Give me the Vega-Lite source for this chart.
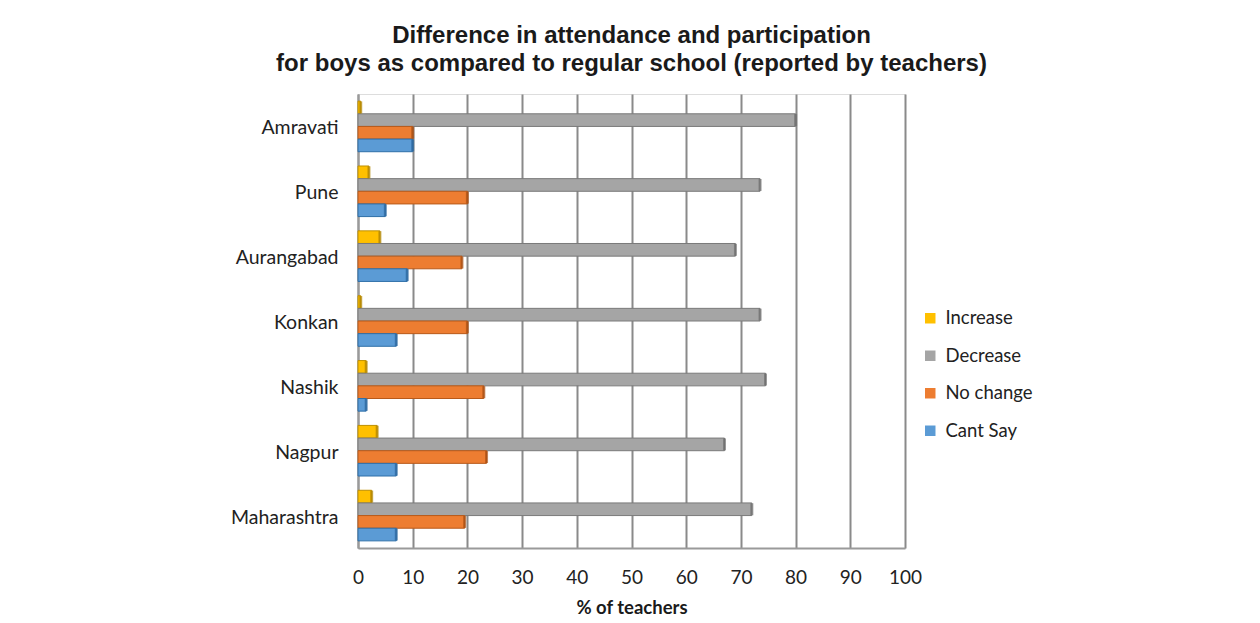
{
  "$schema": "https://vega.github.io/schema/vega-lite/v6.json",
  "autosize": {"type": "none"},
  "width": 547,
  "height": 454,
  "padding": {"left": 358, "top": 94, "right": 355, "bottom": 75},
  "background": "#ffffff",
  "title": {
    "text": ["Difference in attendance and participation", "for boys as compared to regular school (reported by teachers)"],
    "anchor": "middle",
    "frame": "group",
    "font": "Liberation Sans",
    "fontSize": 24,
    "fontWeight": "bold",
    "color": "#1a1a1a",
    "lineHeight": 28,
    "offset": 18
  },
  "data": {
    "values": [
      {"region": "Amravati", "response": "Increase", "pct": 0.5},
      {"region": "Amravati", "response": "Decrease", "pct": 80},
      {"region": "Amravati", "response": "No change", "pct": 10},
      {"region": "Amravati", "response": "Cant Say", "pct": 10},
      {"region": "Pune", "response": "Increase", "pct": 2},
      {"region": "Pune", "response": "Decrease", "pct": 73.5},
      {"region": "Pune", "response": "No change", "pct": 20},
      {"region": "Pune", "response": "Cant Say", "pct": 5},
      {"region": "Aurangabad", "response": "Increase", "pct": 4},
      {"region": "Aurangabad", "response": "Decrease", "pct": 69},
      {"region": "Aurangabad", "response": "No change", "pct": 19},
      {"region": "Aurangabad", "response": "Cant Say", "pct": 9},
      {"region": "Konkan", "response": "Increase", "pct": 0.5},
      {"region": "Konkan", "response": "Decrease", "pct": 73.5},
      {"region": "Konkan", "response": "No change", "pct": 20},
      {"region": "Konkan", "response": "Cant Say", "pct": 7},
      {"region": "Nashik", "response": "Increase", "pct": 1.5},
      {"region": "Nashik", "response": "Decrease", "pct": 74.5},
      {"region": "Nashik", "response": "No change", "pct": 23},
      {"region": "Nashik", "response": "Cant Say", "pct": 1.5},
      {"region": "Nagpur", "response": "Increase", "pct": 3.5},
      {"region": "Nagpur", "response": "Decrease", "pct": 67},
      {"region": "Nagpur", "response": "No change", "pct": 23.5},
      {"region": "Nagpur", "response": "Cant Say", "pct": 7},
      {"region": "Maharashtra", "response": "Increase", "pct": 2.5},
      {"region": "Maharashtra", "response": "Decrease", "pct": 72},
      {"region": "Maharashtra", "response": "No change", "pct": 19.5},
      {"region": "Maharashtra", "response": "Cant Say", "pct": 7}
    ]
  },
  "encoding": {
    "y": {
      "field": "region",
      "type": "nominal",
      "sort": ["Amravati", "Pune", "Aurangabad", "Konkan", "Nashik", "Nagpur", "Maharashtra"],
      "scale": {"paddingInner": 0.22, "paddingOuter": 0.11},
      "axis": {
        "title": null,
        "ticks": false,
        "domainColor": "#9a9a9a",
        "domainWidth": 2,
        "labelFont": "Lato",
        "labelFontSize": 19.5,
        "labelColor": "#222222",
        "labelPadding": 20,
        "labelOffset": 2
      }
    },
    "yOffset": {
      "field": "response",
      "type": "nominal",
      "sort": ["Increase", "Decrease", "No change", "Cant Say"],
      "scale": {"paddingInner": 0, "paddingOuter": 0}
    },
    "x": {
      "field": "pct",
      "type": "quantitative",
      "scale": {"domain": [0, 100], "nice": false},
      "axis": {
        "title": "% of teachers",
        "values": [0, 10, 20, 30, 40, 50, 60, 70, 80, 90, 100],
        "grid": true,
        "gridColor": "#8a8a8a",
        "gridWidth": 2,
        "ticks": false,
        "domainColor": "#9a9a9a",
        "domainWidth": 2,
        "labelFlush": false,
        "labelFont": "Lato",
        "labelFontSize": 19,
        "labelColor": "#222222",
        "labelPadding": 20,
        "titleFont": "Lato",
        "titleFontSize": 18.5,
        "titleFontWeight": "bold",
        "titleColor": "#1a1a1a",
        "titlePadding": 11
      }
    }
  },
  "layer": [
    {
      "mark": {"type": "bar", "strokeWidth": 1},
      "encoding": {
        "color": {
          "field": "response",
          "type": "nominal",
          "sort": ["Increase", "Decrease", "No change", "Cant Say"],
          "scale": {
            "domain": ["Increase", "Decrease", "No change", "Cant Say"],
            "range": ["#ffc000", "#a5a5a5", "#ed7d31", "#5b9bd5"]
          },
          "legend": {
            "title": null,
            "orient": "none",
            "legendX": 563,
            "legendY": 215,
            "symbolType": "square",
            "symbolSize": 110,
            "symbolStrokeWidth": 0,
            "labelFont": "Lato",
            "labelFontSize": 18.5,
            "labelColor": "#222222",
            "labelOffset": 6,
            "rowPadding": 18.5
          }
        },
        "stroke": {
          "field": "response",
          "type": "nominal",
          "scale": {
            "domain": ["Increase", "Decrease", "No change", "Cant Say"],
            "range": ["#bf9000", "#7a7a7a", "#b85a1a", "#2e6fa8"]
          },
          "legend": null
        }
      }
    },
    {
      "mark": {"type": "tick", "orient": "vertical", "thickness": 3, "size": 12},
      "encoding": {
        "color": {
          "field": "response",
          "type": "nominal",
          "scale": {
            "domain": ["Increase", "Decrease", "No change", "Cant Say"],
            "range": ["#b08400", "#6e6e6e", "#a84f12", "#2a659c"]
          },
          "legend": null
        }
      }
    }
  ],
  "resolve": {"scale": {"color": "independent"}}
}
